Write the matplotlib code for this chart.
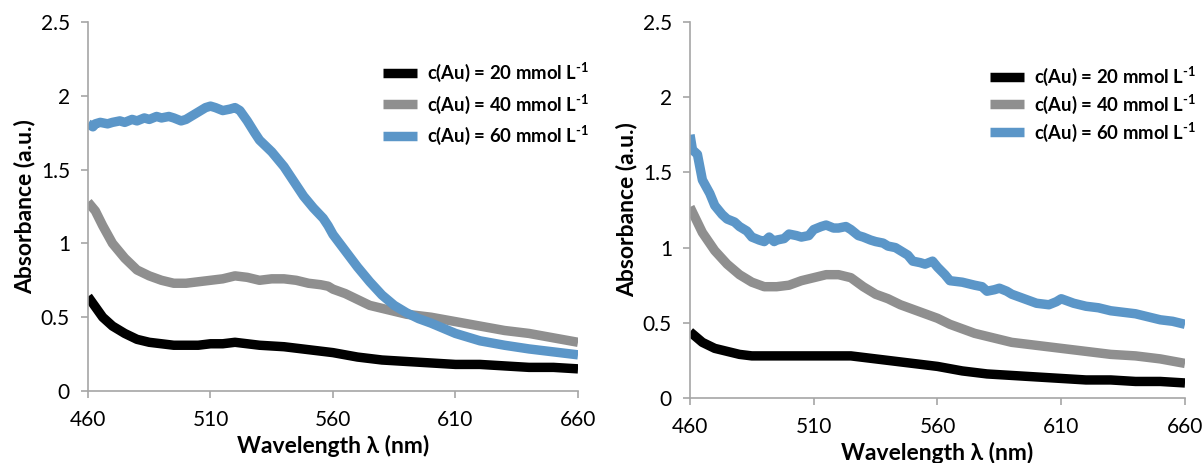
import matplotlib
matplotlib.use("Agg")
import matplotlib.pyplot as plt

plt.rcParams['font.family'] = ['Lato', 'DejaVu Sans']
plt.rcParams['mathtext.fontset'] = 'custom'
plt.rcParams['mathtext.rm'] = 'Lato:bold'
plt.rcParams['mathtext.bf'] = 'Lato:bold'
plt.rcParams['mathtext.it'] = 'Lato:bold'

# ---------------- data (left panel) ----------------
wl_l_20 = [460, 463, 466, 470, 475, 480, 485, 490, 495, 500, 505, 510, 515, 520, 525, 530,
           540, 550, 560, 570, 580, 590, 600, 610, 620, 630, 640, 650, 660]
ab_l_20 = [0.64, 0.57, 0.50, 0.44, 0.39, 0.35, 0.33, 0.32, 0.31, 0.31, 0.31, 0.32, 0.32, 0.33, 0.32, 0.31,
           0.30, 0.28, 0.26, 0.23, 0.21, 0.20, 0.19, 0.18, 0.18, 0.17, 0.16, 0.16, 0.15]

wl_l_40 = [460, 463, 466, 470, 475, 480, 485, 490, 495, 500, 505, 510, 515, 520, 525, 530, 535,
           540, 545, 550, 555, 558, 560, 565, 570, 575, 580, 585, 590, 595, 600, 610, 620, 630,
           640, 650, 660]
ab_l_40 = [1.28, 1.22, 1.12, 1.00, 0.90, 0.82, 0.78, 0.75, 0.73, 0.73, 0.74, 0.75, 0.76, 0.78, 0.77, 0.75, 0.76,
           0.76, 0.75, 0.73, 0.72, 0.71, 0.69, 0.66, 0.62, 0.58, 0.56, 0.54, 0.52, 0.51, 0.50, 0.47, 0.44, 0.41,
           0.39, 0.36, 0.33]

wl_l_60 = [460, 462, 463, 465, 468, 470, 473, 475, 478, 480, 483, 485, 488, 490, 493, 495, 498, 500,
           503, 505, 508, 510, 512, 515, 518, 520, 522, 525, 528, 530, 535, 540, 544, 548, 552, 556,
           558, 560, 565, 570, 575, 580, 585, 590, 595, 600, 610, 620, 630, 640, 650, 660]
ab_l_60 = [1.81, 1.79, 1.81, 1.82, 1.81, 1.82, 1.83, 1.82, 1.84, 1.83, 1.85, 1.84, 1.86, 1.85, 1.86, 1.85, 1.83, 1.84,
           1.87, 1.89, 1.92, 1.93, 1.92, 1.90, 1.91, 1.92, 1.90, 1.83, 1.75, 1.70, 1.62, 1.52, 1.42, 1.32, 1.24, 1.17,
           1.12, 1.06, 0.95, 0.84, 0.74, 0.65, 0.58, 0.53, 0.49, 0.46, 0.39, 0.34, 0.31, 0.285, 0.265, 0.245]

# ---------------- data (right panel) ----------------
wl_r_20 = [460, 465, 470, 475, 480, 485, 490, 500, 510, 520, 525, 530, 540, 550, 560, 570,
           580, 590, 600, 610, 620, 630, 640, 650, 660]
ab_r_20 = [0.44, 0.37, 0.33, 0.31, 0.29, 0.28, 0.28, 0.28, 0.28, 0.28, 0.28, 0.27, 0.25, 0.23, 0.21, 0.18,
           0.16, 0.15, 0.14, 0.13, 0.12, 0.12, 0.11, 0.11, 0.10]

wl_r_40 = [460, 465, 470, 475, 480, 485, 490, 495, 500, 505, 510, 515, 520, 525, 530, 535, 540,
           545, 550, 555, 560, 565, 570, 575, 580, 585, 590, 595, 600, 610, 620, 630, 640, 650, 660]
ab_r_40 = [1.27, 1.10, 0.98, 0.89, 0.82, 0.77, 0.74, 0.74, 0.75, 0.78, 0.80, 0.82, 0.82, 0.80, 0.74, 0.69, 0.66,
           0.62, 0.59, 0.56, 0.53, 0.49, 0.46, 0.43, 0.41, 0.39, 0.37, 0.36, 0.35, 0.33, 0.31, 0.29, 0.28, 0.26, 0.23]

wl_r_60 = [460, 461, 463, 465, 468, 470, 473, 475, 478, 480, 483, 485, 488, 490, 492, 494, 495, 498,
           500, 503, 505, 508, 510, 513, 515, 518, 520, 523, 525, 528, 530, 533, 535, 538, 540, 543,
           545, 548, 550, 553, 555, 558, 560, 563, 565, 570, 575, 578, 580, 583, 585, 588, 590, 595,
           600, 605, 608, 610, 615, 620, 625, 630, 635, 640, 645, 650, 655, 660]
ab_r_60 = [1.75, 1.65, 1.62, 1.45, 1.36, 1.28, 1.22, 1.19, 1.17, 1.14, 1.11, 1.07, 1.05, 1.04, 1.07, 1.04, 1.05, 1.06,
           1.09, 1.08, 1.07, 1.08, 1.12, 1.14, 1.15, 1.13, 1.13, 1.14, 1.12, 1.08, 1.07, 1.05, 1.04, 1.03, 1.01, 1.00,
           0.98, 0.95, 0.91, 0.90, 0.89, 0.91, 0.87, 0.82, 0.78, 0.77, 0.75, 0.74, 0.71, 0.72, 0.73, 0.71, 0.69, 0.66,
           0.63, 0.62, 0.64, 0.66, 0.63, 0.61, 0.60, 0.58, 0.57, 0.56, 0.54, 0.52, 0.51, 0.49]

labels = [r'c(Au) = 20 mmol L$^{\text{-1}}$',
          r'c(Au) = 40 mmol L$^{\text{-1}}$',
          r'c(Au) = 60 mmol L$^{\text{-1}}$']
colors = ['#000000', '#8f8f8f', '#5b96c8']
xticks = [460, 510, 560, 610, 660]
yticks = [0, 0.5, 1, 1.5, 2, 2.5]
yticklabels = ['0', '0.5', '1', '1.5', '2', '2.5']

W, H = 1203, 463
fig = plt.figure(figsize=(W / 100, H / 100), dpi=100)

ax_l = fig.add_axes([88 / W, 1 - 391 / H, (578 - 88) / W, (391 - 22) / H])
ax_r = fig.add_axes([690 / W, 1 - 398 / H, (1185 - 690) / W, (398 - 22) / H])

panels = [
    (ax_l, [(wl_l_20, ab_l_20), (wl_l_40, ab_l_40), (wl_l_60, ab_l_60)], (383 / W, 1 - 61 / H), 0.45),
    (ax_r, [(wl_r_20, ab_r_20), (wl_r_40, ab_r_40), (wl_r_60, ab_r_60)], (990 / W, 1 - 65 / H), 0.25),
]

spine_col = '#a6a6a6'
for ax, series, anchor, lsp in panels:
    for (x, y), c, lab in zip(series, colors, labels):
        ax.plot(x, y, color=c, lw=6.8, label=lab, solid_capstyle='butt', solid_joinstyle='round')
    ax.set_xlim(460, 660)
    ax.set_ylim(0, 2.5)
    ax.set_xticks(xticks)
    ax.set_yticks(yticks)
    ax.set_yticklabels(yticklabels)
    for s in ['top', 'right']:
        ax.spines[s].set_visible(False)
    for s in ['left', 'bottom']:
        ax.spines[s].set_color(spine_col)
        ax.spines[s].set_linewidth(1.2)
    ax.tick_params(direction='out', length=5, width=1.2, color=spine_col,
                   labelsize=15, labelcolor='#000000')
    ax.tick_params(axis='x', pad=9)
    ax.tick_params(axis='y', pad=8)
    ax.set_xlabel('Wavelength λ (nm)', fontsize=16.5, fontweight='bold', labelpad=3)
    ax.set_ylabel('Absorbance (a.u.)', fontsize=16.5, fontweight='bold', labelpad=4)
    ax.legend(loc='upper left', bbox_to_anchor=anchor, bbox_transform=fig.transFigure,
              frameon=False, borderpad=0, borderaxespad=0, handlelength=1.85,
              handletextpad=0.55, labelspacing=lsp,
              prop={'weight': 'bold', 'size': 13.3})

fig.savefig('out.png', dpi=100)
